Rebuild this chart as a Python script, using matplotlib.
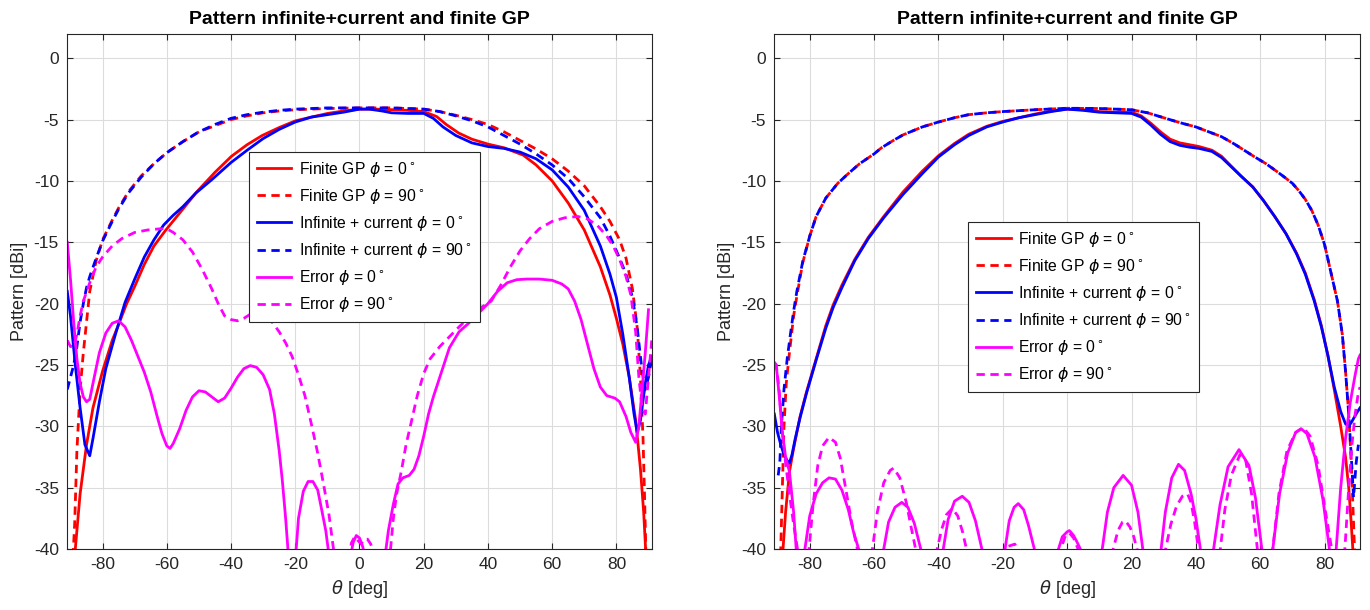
import numpy as np
import matplotlib.pyplot as plt

plt.rcParams['font.family'] = ['Liberation Sans', 'DejaVu Sans']
plt.rcParams['mathtext.fontset'] = 'dejavusans'
plt.rcParams['axes.unicode_minus'] = False

# ---------------- left panel ----------------
th_fin0_L = [-89.8, -89.2, -88.5, -87, -85, -83, -80, -77, -75, -72.5, -70, -67, -64, -60.3, -55, -50.7, -45,
             -39.9, -35, -30.3, -25, -19.9, -15, -9.9, -5, 0, 5, 10.5, 15, 20, 24, 27, 30.9, 35, 40, 45, 51,
             55, 60, 65, 70, 75, 78, 80, 82, 84, 86, 87.5, 88.5, 89.2, 89.8]
fin0_L = [-44, -40.5, -40, -35.5, -31.5, -28.5, -25.5, -23, -21.7, -20, -18.6, -16.8, -15.3, -14.0, -12.3, -10.9, -9.3,
          -8.0, -7.05, -6.3, -5.65, -5.1, -4.8, -4.5, -4.3, -4.15, -4.15, -4.2, -4.25, -4.35, -4.75, -5.4, -6.1, -6.6, -7.0, -7.3, -7.9,
          -8.7, -10.0, -11.8, -14.0, -17.0, -19.3, -21.2, -23.3, -26.0, -29.5, -33.5, -37, -40.5, -44]

th_inf0_L = [-91, -90, -88.5, -87, -85.5, -84, -83, -81, -79, -76, -73, -70, -67, -64, -61, -58, -55, -51, -46,
             -40, -35, -30, -25, -20, -15, -10, -5, 0, 3, 7, 10, 15, 20, 23, 26, 30, 35, 40, 45, 50, 55, 60,
             65, 70, 75, 78, 80, 82, 84, 85.5, 86.5, 87.5, 89, 90, 91]
inf0_L = [-19, -21, -25, -28.5, -31.5, -32.4, -31, -28, -25.3, -22.5, -19.9, -18.0, -16.2, -14.8, -13.6, -12.8, -12.1, -11.0, -9.9,
          -8.5, -7.5, -6.55, -5.8, -5.2, -4.8, -4.6, -4.4, -4.15, -4.15, -4.3, -4.45, -4.5, -4.5, -4.9, -5.6, -6.3, -6.9, -7.2, -7.35, -7.65, -8.2, -9.1,
          -10.5, -12.4, -15.3, -17.6, -19.5, -22.5, -26, -29, -30.5, -29.5, -26.5, -25, -24.3]

th_fin90_L = [-89.5, -89.2, -88.7, -88, -87, -86, -85, -84, -82, -80, -77, -75, -72, -68, -64, -60, -55, -50, -45,
              -40, -35, -30, -25, -20, -10, 0, 10, 20, 25, 30, 35, 40, 45, 50, 55, 60, 65, 70, 75, 78, 81, 83,
              85, 86.5, 87.5, 88.3, 88.8, 89.2, 89.5]
fin90_L = [-44, -40.5, -38, -32, -27, -24, -21.5, -19, -16.5, -14.8, -13.2, -12.2, -10.9, -9.6, -8.6, -7.7, -6.8, -6.0, -5.5,
           -5.0, -4.7, -4.45, -4.3, -4.2, -4.1, -4.05, -4.05, -4.15, -4.35, -4.65, -5.0, -5.4, -6.0, -6.7, -7.4, -8.2, -9.2, -10.4, -12.1, -13.3, -14.8, -16.3,
           -18.8, -22, -26, -31, -36, -40.5, -44]

th_inf90_L = [-91, -90, -89, -88, -87, -86, -85, -84, -82, -80, -77, -75, -72, -68, -64, -60, -55, -50, -45,
              -40, -35, -30, -25, -20, -10, 0, 10, 20, 25, 30, 35, 40, 45, 50, 55, 60, 65, 70, 75, 78, 81, 83,
              85, 86.5, 88, 89, 90, 91]
inf90_L = [-27, -26, -25, -23.5, -21.5, -20, -18.7, -17.8, -16.3, -14.9, -13.3, -12.3, -11.0, -9.7, -8.6, -7.7, -6.8, -6.0, -5.4,
           -4.9, -4.6, -4.4, -4.25, -4.15, -4.05, -4.05, -4.05, -4.15, -4.35, -4.7, -5.1, -5.6, -6.3, -7.0, -7.8, -8.7, -9.8, -11.3, -13.0, -14.5, -16.3, -17.6,
           -19.5, -22, -25.5, -27, -26, -24.5]

th_err0_L = [-91, -90, -89, -88, -87, -86, -85, -84, -83, -81, -79, -77, -75, -73, -71, -69, -67, -65, -63, -61.5, -60,
             -59, -58, -56, -54, -52, -50, -48, -46, -44, -42, -40, -38, -36, -34, -32, -30, -28, -26.5, -25, -24,
             -23, -22, -21, -20, -19, -17.5, -16, -14.5, -13, -12, -10.5, -9.5, -6, -3, -2, -1, 0, 1, 2, 5, 8,
             9, 10.5, 12, 13.5, 15.5, 17, 18.5, 20, 21.5, 23, 25, 28, 31, 34, 37, 40, 43, 46, 49, 52, 56, 60,
             63, 65, 67, 69, 71, 73, 75, 77, 79.5, 81, 83, 84.5, 86, 87, 88, 89, 90]
err0_L = [-15, -18, -21.5, -24.5, -26.5, -27.6, -28.0, -27.8, -26.5, -24, -22.4, -21.6, -21.4, -21.9, -23.0, -24.3, -25.6, -27.2, -29.2, -30.6, -31.6,
          -31.8, -31.4, -30.2, -28.7, -27.6, -27.1, -27.2, -27.6, -28.0, -27.7, -26.9, -26.0, -25.3, -25.05, -25.2, -25.8, -27.0, -29.0, -32.0, -34.5,
          -37.5, -41, -45, -41, -37.5, -35.3, -34.5, -34.5, -35.2, -36.5, -38.5, -40.5, -47, -41, -39.5, -38.9, -39.1, -39.8, -41, -47, -40.5,
          -38.5, -36.4, -34.7, -34.2, -34.0, -33.5, -32.4, -30.8, -29.0, -27.6, -26.0, -23.6, -22.3, -21.6, -20.8, -20.0, -19.0, -18.3, -18.05, -18.0, -18.0, -18.1,
          -18.4, -18.8, -19.8, -21.3, -23.3, -25.3, -26.8, -27.5, -27.7, -28.0, -29.2, -30.5, -31.3, -30.0, -27.0, -24, -20.5]

th_err90_L = [-91, -90, -89, -88, -87, -86, -84, -82, -80, -77, -74, -70, -66, -62, -60, -58, -55, -52, -49, -46,
              -44, -42, -40, -38, -36, -33, -30, -27.5, -25, -23, -21, -19, -17, -15, -13, -11, -9.5, -8, -6,
              -3.5, -2.5, -1.5, -0.5, 0.5, 1.5, 2.5, 3.5, 4.5, 7, 9.5, 10.5, 11.5, 13, 14.5, 16, 18, 20, 22, 25,
              28, 31, 35, 38, 41, 44, 47, 50, 53, 56, 60, 64, 68, 71, 74, 77, 79, 81, 83, 84.5, 86, 87, 88, 89,
              90, 91]
err90_L = [-23, -23.5, -23.5, -22.5, -21, -19.8, -18.3, -17, -16.2, -15.3, -14.7, -14.2, -14.0, -13.9, -13.9, -14.2, -14.8, -15.8, -17.2, -18.8,
           -20.0, -21.0, -21.3, -21.4, -21.2, -20.7, -20.7, -21.4, -22.3, -23.2, -24.3, -25.8, -27.5, -29.8, -32.2, -35.0, -37.2, -40.2, -44,
           -41, -39.5, -39.0, -39.3, -39.6, -39.2, -39.2, -39.6, -40.5, -44, -40.5, -37.6, -35.6, -33.7, -31.5, -29.8, -27.5, -25.7, -24.5, -23.5,
           -22.7, -21.9, -20.9, -20.3, -19.8, -18.5, -17.0, -15.7, -14.7, -13.9, -13.3, -13.0, -12.9, -13.1, -13.6, -14.5, -15.3, -16.4, -17.8, -19.3,
           -22.3, -26, -28.5, -29, -26, -23]

# ---------------- right panel ----------------
th_fin0_R = [-89.5, -89, -88.3, -87.5, -86.3, -85, -83, -81, -78, -75, -72.7, -70, -66, -61.8, -57, -51, -45, -40,
             -35, -30.6, -25, -20, -15, -10, -5, 0, 5, 10, 15, 20, 23, 26, 29, 32, 35, 38, 41, 45, 48, 51, 54,
             57.7, 61, 64.5, 68, 71.3, 74, 76.8, 79, 81, 83, 85, 86.5, 87.5, 88.3, 89, 89.5]
fin0_R = [-45, -41, -40, -37, -33.7, -31.8, -29.2, -27.2, -24.5, -21.8, -20.1, -18.5, -16.4, -14.6, -12.9, -10.9, -9.2, -7.95,
          -6.95, -6.2, -5.55, -5.15, -4.85, -4.55, -4.3, -4.15, -4.2, -4.35, -4.4, -4.4, -4.7, -5.3, -6.0, -6.6, -6.9, -7.05, -7.2, -7.5, -8.0, -8.8, -9.6,
          -10.5, -11.6, -12.9, -14.3, -15.9, -17.5, -19.7, -21.8, -24.2, -27, -30, -32.5, -35, -38, -41, -45]

th_inf0_R = [-91, -90, -89, -88, -87, -86.3, -85.5, -84.5, -83, -81, -78, -75, -72.7, -70, -66, -61.8, -57, -51, -45,
             -40, -35, -30.6, -25, -20, -15, -10, -5, 0, 5, 10, 15, 20, 23, 26, 29, 32, 35, 38, 41, 45, 48, 51,
             54, 57.7, 61, 64.5, 68, 71.3, 74, 76.8, 79, 81, 83, 85, 86.5, 87.5, 88.5, 90, 91]
inf0_R = [-29, -30.5, -31.5, -32.3, -32.8, -33, -32.3, -31, -29.3, -27.3, -24.6, -22.0, -20.3, -18.7, -16.5, -14.7, -13.0, -11.1, -9.4,
          -8.05, -7.05, -6.3, -5.6, -5.2, -4.85, -4.6, -4.35, -4.15, -4.25, -4.4, -4.45, -4.5, -4.8, -5.45, -6.2, -6.8, -7.1, -7.25, -7.35, -7.6, -8.1, -8.85,
          -9.6, -10.5, -11.6, -12.9, -14.3, -15.95, -17.6, -19.8, -21.9, -24.2, -26.8, -28.8, -29.8, -30, -29.6, -28.9, -28.5]

th_fin90_R = [-89.5, -89, -88.5, -88, -87.3, -86.3, -85, -84, -82.2, -80, -78, -75, -71.3, -68, -64.5, -60, -57.7,
              -54, -51, -45, -40, -35, -30.6, -25, -20, -10, 0, 10, 20, 25, 30.6, 35, 40, 44, 48, 52, 55, 58,
              61.8, 65, 67.3, 70, 72, 74, 76, 78, 80, 82, 84, 85.5, 86.5, 87.5, 88.3, 88.8, 89.3, 89.7]
fin90_R = [-45, -40, -35, -30, -26.5, -24, -21, -19.4, -16.7, -14.5, -12.9, -11.4, -10.2, -9.4, -8.6, -7.8, -7.3,
           -6.7, -6.25, -5.6, -5.2, -4.85, -4.6, -4.45, -4.35, -4.2, -4.08, -4.1, -4.2, -4.45, -4.9, -5.25, -5.6, -6.0, -6.4, -7.0, -7.5, -8.0,
           -8.6, -9.2, -9.65, -10.2, -10.8, -11.5, -12.4, -13.6, -15.2, -17.5, -19.8, -22.5, -25.5, -29, -33, -36.5, -40, -44]

th_inf90_R = [-89.8, -89.3, -88.8, -88, -87, -86, -85, -84, -82.2, -80, -78, -75, -71.3, -68, -64.5, -60, -57.7,
              -54, -51, -45, -40, -35, -30.6, -25, -20, -10, 0, 10, 20, 25, 30.6, 35, 40, 44, 48, 52, 55, 58,
              61.8, 65, 67.3, 70, 72, 74, 76, 78, 80, 82, 84, 85.5, 86.5, 87.5, 88.3, 89, 89.8, 90.5]
inf90_R = [-34, -33, -30, -27, -24.5, -22.5, -20.6, -19, -16.6, -14.5, -12.9, -11.4, -10.2, -9.4, -8.6, -7.8, -7.3,
           -6.7, -6.25, -5.6, -5.2, -4.85, -4.6, -4.45, -4.35, -4.2, -4.08, -4.1, -4.2, -4.45, -4.9, -5.25, -5.6, -6.0, -6.4, -7.0, -7.5, -8.0,
           -8.6, -9.2, -9.65, -10.2, -10.8, -11.5, -12.4, -13.6, -15.2, -17.5, -19.8, -22.5, -25.5, -29, -32.5, -35.8, -33, -31.5]

th_err0_R = [-91, -90.4, -89.5, -88.5, -87.5, -86.3, -85, -84.2, -83,
             -81.5, -80, -78, -76, -74, -72, -70, -68, -66.5, -64.8, -62.5,
             -57, -55.5, -53.5, -51.4, -49.5, -47.5, -45.5, -42,
             -38.5, -37, -35, -32.6, -30.5, -28.5, -26.5, -23,
             -19.3, -18, -16.5, -15.2, -13.5, -12, -10.2, -6.5,
             -2.7, -1.5, 0, 0.7, 2, 3, 4.1, 7.5,
             10.9, 12.5, 14.5, 17.4, 20, 22, 23.5, 26.5,
             29.2, 30.5, 32.5, 34.6, 36.5, 38.5, 40, 41.4, 43.5,
             45.5, 47.5, 50, 53.4, 56.5, 58.5, 60.5, 62,
             63.9, 66, 68.5, 71, 72.7, 74.5, 77, 79.5, 81.5, 82.5,
             83.6, 85, 86.5, 88, 89.5, 90.5, 91]
err0_R = [-24.8, -25, -27.5, -30.5, -32.5, -33.7, -37, -40, -47,
          -40, -37.3, -35.5, -34.6, -34.2, -34.3, -35.2, -36.8, -38.5, -40, -50,
          -40, -37.8, -36.6, -36.2, -36.6, -37.9, -40, -50,
          -40, -37.6, -36.1, -35.7, -36.2, -37.7, -40, -50,
          -40, -37.7, -36.6, -36.3, -36.8, -38.1, -40, -50,
          -40, -39, -38.6, -38.5, -38.9, -39.4, -40, -50,
          -40, -37, -35, -34.0, -34.8, -37, -40, -50,
          -40, -37, -34.2, -33.1, -33.6, -35.5, -37.5, -40, -50,
          -40, -36.4, -33.3, -31.9, -33.2, -35.8, -40, -50,
          -40, -35.5, -32.2, -30.5, -30.2, -30.6, -32.5, -36, -40, -50,
          -40, -35, -31, -28, -25.8, -24.5, -24.2]

th_err90_R = [-91, -90.4, -89.5, -88.5, -87.5, -86.3, -85, -83.8, -82,
              -80.2, -79, -77.5, -76, -74, -72, -70.5, -69, -67, -65.2, -63,
              -60.5, -59, -57, -55, -53.9, -52, -50, -48.5, -47.1, -44,
              -40.4, -39, -37.5, -35.7, -34, -32.5, -31.3, -26,
              -20.8, -18.5, -16.3, -14.3, -10,
              -2, -0.5, 0.7, 2, 3.4, 8,
              14.3, 15.8, 17.2, 18.1, 19.5, 20.7, 21.7, 25,
              30.6, 32.2, 34, 35.8, 37.4, 38.5, 39.6, 40.8, 44,
              47.6, 49, 51, 53.7, 55.5, 57.3, 59.1, 61.5,
              63.9, 65.8, 68.3, 71, 73.4, 75.5, 78, 80.3, 82.2, 84,
              86.3, 87.5, 88.5, 89.5, 90.4, 91]
err90_R = [-24.8, -25, -27, -30.5, -33, -35.5, -38, -40, -48,
           -40, -36.5, -33.2, -31.6, -30.9, -31.3, -32.6, -34.8, -37.8, -40, -50,
           -40, -37, -34.6, -33.6, -33.4, -34.2, -36.2, -38.2, -40, -50,
           -40, -38.4, -37.2, -36.7, -37.3, -38.6, -40, -50,
           -40.3, -39.8, -39.6, -40.3, -48,
           -40, -38.9, -38.7, -39.1, -40, -50,
           -40, -38.5, -37.8, -37.7, -38.2, -39.0, -40, -50,
           -40, -38, -36.5, -35.7, -35.5, -36.2, -37.8, -40, -50,
           -40, -36.8, -34.0, -32.3, -32.8, -35.5, -40, -50,
           -40, -35.5, -32.0, -30.5, -30.1, -30.8, -33.2, -37, -40, -47,
           -40, -35, -31.5, -29, -27.4, -26.8]

labels = [r'Finite GP $\phi$ = 0$^\circ$', r'Finite GP $\phi$ = 90$^\circ$',
          r'Infinite + current $\phi$ = 0$^\circ$', r'Infinite + current $\phi$ = 90$^\circ$',
          r'Error $\phi$ = 0$^\circ$', r'Error $\phi$ = 90$^\circ$']

fig = plt.figure(figsize=(13.7, 6.1), dpi=100)
ax1 = fig.add_axes([0.0491, 0.1, 0.4266, 0.8448])
ax2 = fig.add_axes([0.5652, 0.1, 0.4275, 0.8448])

dash = (3, 2)
lw = 2.0


def draw(ax, data):
    styles = [('red', '-'), ('red', '--'), ('blue', '-'), ('blue', '--'), ('magenta', '-'), ('magenta', '--')]
    for (th, val), (col, ls), lab in zip(data, styles, labels):
        if ls == '--':
            ax.plot(th, val, color=col, lw=lw, dashes=dash, label=lab)
        else:
            ax.plot(th, val, color=col, lw=lw, label=lab)
    ax.set_xlim(-91, 91)
    ax.set_ylim(-40, 2)
    ax.set_xticks(np.arange(-80, 81, 20))
    ax.set_yticks(np.arange(-40, 1, 5))
    ax.grid(True, color='#dcdcdc', lw=0.8)
    ax.set_axisbelow(True)
    ax.tick_params(direction='in', top=True, right=True, length=4, width=0.8,
                   labelsize=12.5, colors='#262626', pad=6)
    for s in ax.spines.values():
        s.set_color('#262626')
        s.set_linewidth(0.8)
    ax.set_title('Pattern infinite+current and finite GP', fontsize=14, fontweight='bold', pad=7)
    ax.set_xlabel(r'$\theta$ [deg]', fontsize=13, color='#262626')
    ax.set_ylabel('Pattern [dBi]', fontsize=13, color='#262626')


draw(ax1, [(th_fin0_L, fin0_L), (th_fin90_L, fin90_L), (th_inf0_L, inf0_L),
           (th_inf90_L, inf90_L), (th_err0_L, err0_L), (th_err90_L, err90_L)])
draw(ax2, [(th_fin0_R, fin0_R), (th_fin90_R, fin90_R), (th_inf0_R, inf0_R),
           (th_inf90_R, inf90_R), (th_err0_R, err0_R), (th_err90_R, err90_R)])

leg_kw = dict(loc='upper left', fontsize=11.3, frameon=True, fancybox=False, framealpha=1,
              edgecolor='#262626', handlelength=2.2, handletextpad=0.5, labelspacing=0.52,
              borderpad=0.5, borderaxespad=0)
l1 = ax1.legend(bbox_to_anchor=(0.311, 0.771), **leg_kw)
l2 = ax2.legend(bbox_to_anchor=(0.331, 0.635), **leg_kw)
for lg in (l1, l2):
    lg.get_frame().set_linewidth(0.8)

fig.savefig('out.png', dpi=100)
